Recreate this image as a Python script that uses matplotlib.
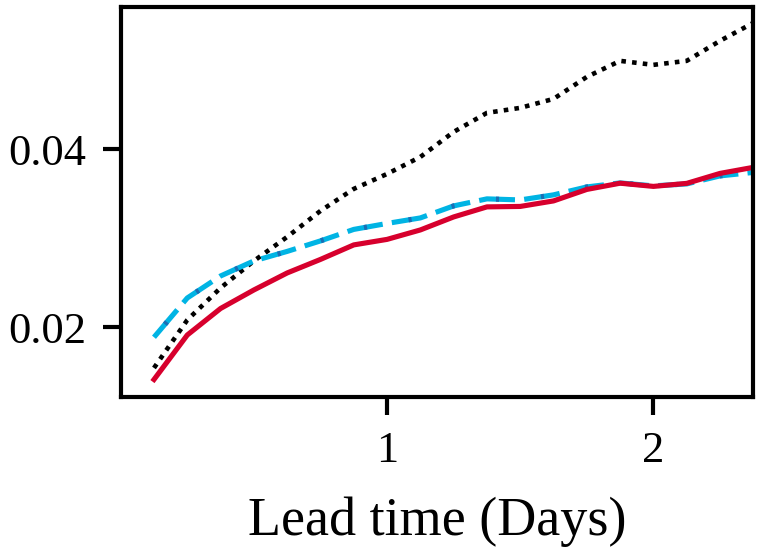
import numpy as np
import matplotlib
matplotlib.use("Agg")
import matplotlib.pyplot as plt

plt.rcParams['font.family'] = ['Liberation Serif', 'DejaVu Serif']

# lead time in days (3-hourly steps)
lead_days = np.arange(1, 20) * 0.125

red_vals = [0.01413, 0.01913, 0.02211, 0.02419, 0.02610, 0.02762, 0.02925,
            0.02987, 0.03093, 0.03239, 0.03352, 0.03357, 0.03419, 0.03548,
            0.03618, 0.03582, 0.03616, 0.03728, 0.03796]
blue_vals = [0.01888, 0.02329, 0.02576, 0.02745, 0.02852, 0.02970, 0.03099,
             0.03166, 0.03228, 0.03363, 0.03442, 0.03430, 0.03487, 0.03576,
             0.03621, 0.03588, 0.03610, 0.03700, 0.03739]
black_vals = [0.01543, 0.02082, 0.02442, 0.02745, 0.03015, 0.03307, 0.03554,
              0.03722, 0.03913, 0.04194, 0.04408, 0.04464, 0.04565, 0.04812,
              0.04992, 0.04947, 0.04992, 0.05217, 0.05419]

x_ticks = [1, 2]
y_ticks = [0.02, 0.04]

fig = plt.figure(figsize=(7.61, 5.55), dpi=100)
ax = fig.add_axes([0.1586, 0.2852, 0.8313, 0.7027])

lw = 3.7
ax.plot(lead_days, black_vals, color='black', lw=3.3, ls=(0, (1, 1.35)))
ax.plot(lead_days, blue_vals, color='#00b4e4', lw=lw, ls=(0, (7, 1.8)))
# darker blue streaks showing through the dashes
ax.plot(lead_days, blue_vals, color='#1a6eb5', lw=lw, ls=(5.5, (0.6, 8.2)))
ax.plot(lead_days, red_vals, color='#d7002d', lw=lw)

ax.set_xlim(0, 2.375)
ax.set_ylim(0.0122, 0.0560)
ax.set_xticks(x_ticks)
ax.set_xticklabels(['1', '2'])
ax.set_yticks(y_ticks)
ax.set_yticklabels(['0.02', '0.04'])

for s in ax.spines.values():
    s.set_linewidth(3.0)
ax.tick_params(direction='out', length=13, width=3.0, labelsize=32, pad=12)
ax.set_xlabel('Lead time (Days)', fontsize=39, labelpad=18)

fig.savefig('out.png', dpi=100)
